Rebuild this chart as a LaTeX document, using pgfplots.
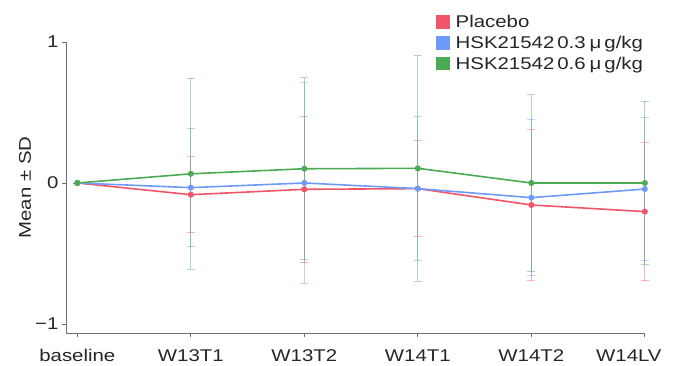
\documentclass[border=0pt]{standalone}
\usepackage{fontspec}
\setmainfont{Liberation Sans}[FakeStretch=1.2]
\usepackage{pgfplots}
\usepackage{pgfplotstable}
\pgfplotsset{compat=1.18}
\definecolor{cred}{RGB}{242,85,105}
\definecolor{cblue}{RGB}{110,155,250}
\definecolor{cgreen}{RGB}{76,170,85}
\definecolor{axgray}{RGB}{110,110,110}
\pgfplotstableread{
x y e
0 0 0
1 -0.083 0.268
2 -0.045 0.52
3 -0.040 0.34
4 -0.156 0.535
5 -0.203 0.49
}\placebo
\pgfplotstableread{
x y e
0 0 0
1 -0.033 0.42
2 0.000 0.71
3 -0.040 0.51
4 -0.104 0.555
5 -0.043 0.51
}\lowdose
\pgfplotstableread{
x y e
0 0 0
1 0.065 0.677
2 0.101 0.645
3 0.104 0.80
4 0.000 0.625
5 0.000 0.578
}\highdose
\begin{document}
\begin{tikzpicture}
\useasboundingbox (0,0) rectangle (681pt,366pt);
\begin{axis}[
  at={(66pt,33pt)}, anchor=south west,
  scale only axis, width=578.85pt, height=291pt,
  xmin=-0.1, xmax=5, ymin=-1.064, ymax=1,
  clip=false,
  axis x line*=bottom, axis y line*=left,
  axis line style={axgray, line width=0.8pt},
  tick style={axgray, line width=0.8pt},
  tick align=outside, major tick length=4pt,
  xtick={0,1,2,3,4,5},
  xticklabels={baseline,W13T1,W13T2,W14T1,W14T2,\makebox[0pt][c]{W14LV\hspace{32pt}}},
  ytick={-1,0,1}, yticklabels={−1,0,1},
  tick label style={font=\fontsize{17}{20}\selectfont, text=black!85},
  xticklabel style={yshift=-9pt},
  ylabel={Mean ± SD},
  ylabel style={at={(axis description cs:-0.0708,0.5)}, anchor=center, font=\fontsize{17}{20}\selectfont, text=black!85},
  legend style={at={(0.639,1.10)}, anchor=north west, draw=none, fill=none,
    font=\fontsize{17}{20}\selectfont, inner sep=0pt, row sep=3pt, column sep=4pt,
    nodes={inner sep=2pt, text=black!85}},
  legend cell align=left,
  every axis plot/.append style={line width=1.6pt},
]
\addlegendimage{legend image code/.code={\fill[cred] (0pt,-6pt) rectangle (12pt,6pt);}}
\addlegendentry{Placebo}
\addlegendimage{legend image code/.code={\fill[cblue] (0pt,-6pt) rectangle (12pt,6pt);}}
\addlegendentry{HSK21542\hspace{3pt}0.3\hspace{4pt}μ\hspace{3pt}g/kg}
\addlegendimage{legend image code/.code={\fill[cgreen] (0pt,-6pt) rectangle (12pt,6pt);}}
\addlegendentry{HSK21542\hspace{3pt}0.6\hspace{4pt}μ\hspace{3pt}g/kg}

\addplot[cred, mark=*, mark size=2.2pt, forget plot,
  error bars/.cd, y dir=both, y explicit,
  error bar style={cred, opacity=0.45, line width=0.9pt},
  error mark options={rotate=90, mark size=4pt, cred, opacity=0.45, line width=0.9pt}]
  table[x=x, y=y, y error=e] {\placebo};
\addplot[cblue, mark=*, mark size=2.2pt, forget plot,
  error bars/.cd, y dir=both, y explicit,
  error bar style={cblue, opacity=0.45, line width=0.9pt},
  error mark options={rotate=90, mark size=4pt, cblue, opacity=0.45, line width=0.9pt}]
  table[x=x, y=y, y error=e] {\lowdose};
\addplot[cgreen, mark=*, mark size=2.2pt, forget plot,
  error bars/.cd, y dir=both, y explicit,
  error bar style={cgreen, opacity=0.45, line width=0.9pt},
  error mark options={rotate=90, mark size=4pt, cgreen, opacity=0.45, line width=0.9pt}]
  table[x=x, y=y, y error=e] {\highdose};
\end{axis}
\end{tikzpicture}
\end{document}
